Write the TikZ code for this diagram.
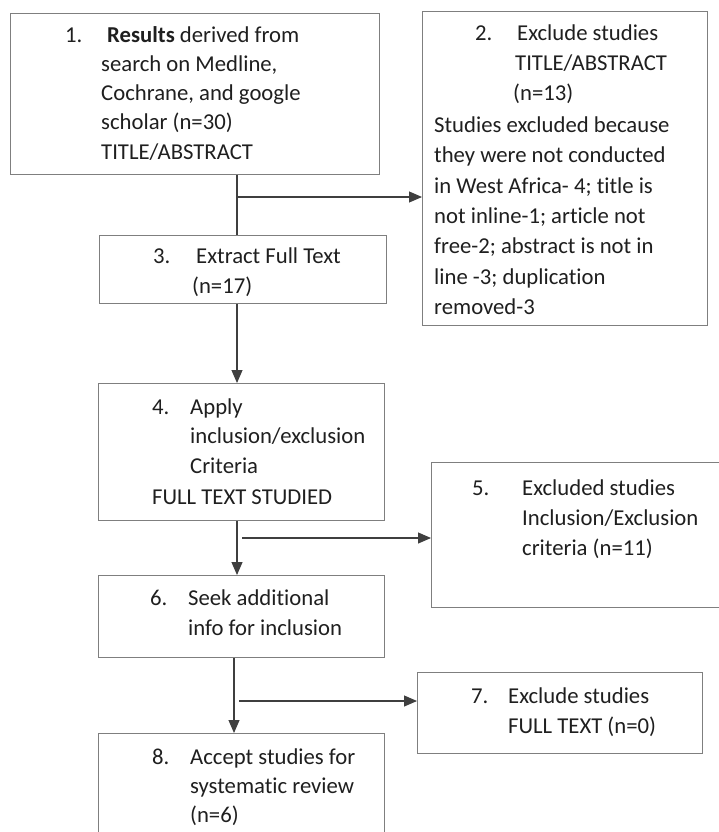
\documentclass[tikz,border=0pt]{standalone}
\usepackage{fontspec}
\setmainfont[Ligatures=NoCommon]{Carlito}
\usetikzlibrary{arrows.meta}
\definecolor{boxgray}{HTML}{7F7F7F}
\definecolor{linegray}{HTML}{3F3F3F}
\definecolor{txtcol}{HTML}{1F1F1F}
\tikzset{
  box/.style={draw=boxgray, line width=1.1pt, inner sep=0pt, anchor=north west},
  txt/.style={anchor=base west, inner sep=0pt, text=txtcol, font=\fontsize{22.7}{30}\selectfont},
  conn/.style={draw=linegray, line width=1.1pt},
  arr/.style={conn, -{Triangle[length=13pt,width=11pt]}},
}
\begin{document}
\begin{tikzpicture}[x=1pt,y=-1pt]
\useasboundingbox[fill=white] (0,0) rectangle (718,832);
% boxes
\node[box, minimum width=369pt, minimum height=161pt] (b1) at (10,13) {};
\node[box, minimum width=285pt, minimum height=314pt] (b2) at (422,11) {};
\node[box, minimum width=287pt, minimum height=68pt]  (b3) at (99,235) {};
\node[box, minimum width=286pt, minimum height=137pt] (b4) at (98,383) {};
\node[box, minimum width=300pt, minimum height=145pt] (b5) at (431,462) {};
\node[box, minimum width=286pt, minimum height=82pt]  (b6) at (98,575) {};
\node[box, minimum width=285pt, minimum height=81pt]  (b7) at (417,672) {};
\node[box, minimum width=286pt, minimum height=125pt] (b8) at (98,733) {};
% box 1 text
\node[txt] (t1n) at (65,43) {1.};
\node[txt] (t1a) at (107,43) {\textbf{Results} derived from};
\node[txt] (t1b) at (101,72) {search on Medline,};
\node[txt] (t1c) at (101,101) {Cochrane, and google};
\node[txt] (t1d) at (101,130) {scholar (n=30)};
\node[txt] (t1e) at (101,159) {TITLE/ABSTRACT};
% box 2 text
\node[txt] (t2n) at (475,41) {2.};
\node[txt] (t2a) at (517,41) {Exclude studies};
\node[txt] (t2b) at (515,71) {TITLE/ABSTRACT};
\node[txt] (t2c) at (513,101) {(n=13)};
\node[txt] (t2d) at (434,132) {Studies excluded because};
\node[txt] (t2e) at (434,162) {they were not conducted};
\node[txt] (t2f) at (434,193) {in West Africa- 4; title is};
\node[txt] (t2g) at (434,223) {not inline-1; article not};
\node[txt] (t2h) at (434,253) {free-2; abstract is not in};
\node[txt] (t2i) at (434,284) {line -3; duplication};
\node[txt] (t2j) at (434,314) {removed-3};
% box 3 text
\node[txt] (t3n) at (153,263) {3.};
\node[txt] (t3a) at (196,263) {Extract Full Text};
\node[txt] (t3b) at (192,293) {(n=17)};
% box 4 text
\node[txt] (t4n) at (152,414) {4.};
\node[txt] (t4a) at (190,414) {Apply};
\node[txt] (t4b) at (190,443) {inclusion/exclusion};
\node[txt] (t4c) at (190,473) {Criteria};
\node[txt] (t4d) at (152,504) {FULL TEXT STUDIED};
% box 5 text
\node[txt] (t5n) at (472,495) {5.};
\node[txt] (t5a) at (522,495) {Excluded studies};
\node[txt] (t5b) at (522,525) {Inclusion/Exclusion};
\node[txt] (t5c) at (522,555) {criteria (n=11)};
% box 6 text
\node[txt] (t6n) at (150,605) {6.};
\node[txt] (t6a) at (188,605) {Seek additional};
\node[txt] (t6b) at (188,635) {info for inclusion};
% box 7 text
\node[txt] (t7n) at (471,703) {7.};
\node[txt] (t7a) at (508,703) {Exclude studies};
\node[txt] (t7b) at (508,733) {FULL TEXT (n=0)};
% box 8 text
\node[txt] (t8n) at (152,764) {8.};
\node[txt] (t8a) at (190,764) {Accept studies for};
\node[txt] (t8b) at (190,793) {systematic review};
\node[txt] (t8c) at (190,822) {(n=6)};
% connectors
\coordinate (vx) at (237,0);
\coordinate (vy) at (234,0);
\coordinate (br1) at (237,197);
\coordinate (br2) at (242,538);
\coordinate (br3) at (239,701);
\draw[conn] (b1.south -| vx) -- (b3.north -| vx);
\draw[arr] (br1) -- (br1 -| b2.west);
\draw[arr] (b3.south -| vx) -- (b4.north -| vx);
\draw[arr] (b4.south -| vx) -- (b6.north -| vx);
\draw[arr] (br2) -- (br2 -| b5.west);
\draw[arr] (b6.south -| vy) -- (b8.north -| vy);
\draw[arr] (br3) -- (br3 -| b7.west);
\end{tikzpicture}
\end{document}
